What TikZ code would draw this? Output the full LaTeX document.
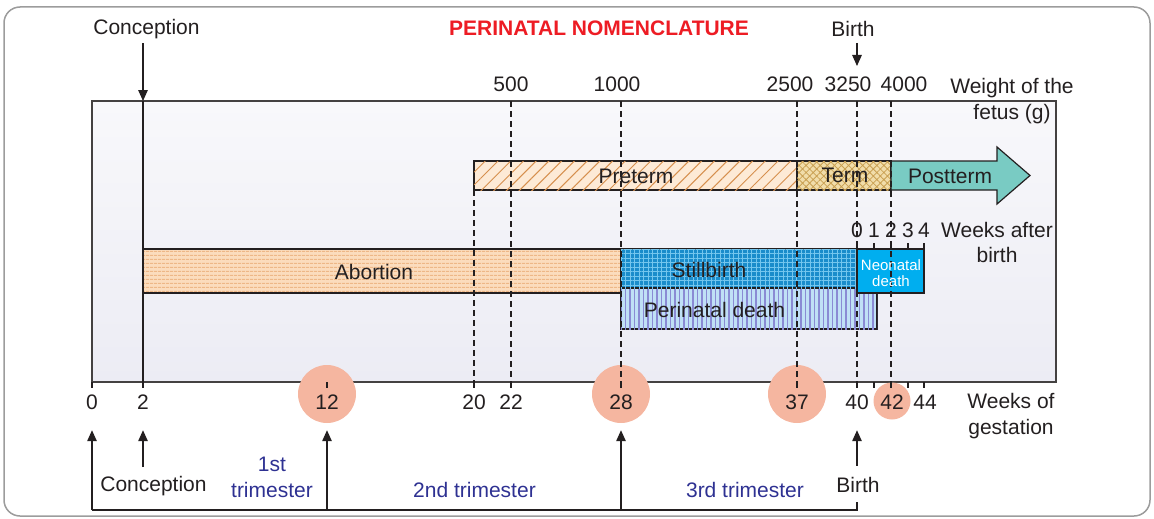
\documentclass[tikz,border=0pt]{standalone}
\usepackage{fontspec}
\setmainfont{Liberation Sans}
\usetikzlibrary{arrows.meta,patterns.meta}

\definecolor{ink}{HTML}{231F20}
\definecolor{titlered}{HTML}{ED1C24}
\definecolor{trimblue}{HTML}{2E3192}
\definecolor{frame}{HTML}{9C9C9C}
\definecolor{boxtop}{HTML}{F8F8FB}
\definecolor{boxbot}{HTML}{ECECF4}
\definecolor{peach}{HTML}{FDEAD6}
\definecolor{peachline}{HTML}{D68F4E}
\definecolor{abortfill}{HTML}{FBDCBD}
\definecolor{abortline}{HTML}{EDB787}
\definecolor{termfill}{HTML}{F1DDAA}
\definecolor{termline}{HTML}{C9A052}
\definecolor{postfill}{HTML}{79CBC3}
\definecolor{stillfill}{HTML}{1A8CCB}
\definecolor{stillline}{HTML}{74C6EE}
\definecolor{neofill}{HTML}{00AEEF}
\definecolor{perifill}{HTML}{C0E0F6}
\definecolor{periline}{HTML}{8A8AD4}
\definecolor{salmon}{HTML}{F5B6A0}

\begin{document}
\begin{tikzpicture}[
  x=1pt, y=-1pt,
  every node/.style={font=\fontsize{21}{25.5}\selectfont, text=ink, inner sep=0pt, align=center},
  bar/.style={draw=ink, line width=1.2pt},
  guide/.style={draw=ink, line width=1.2pt, dash pattern=on 6pt off 4pt},
  arrow/.style={draw=ink, line width=1.3pt, -{Triangle[length=11pt, width=9.5pt]}},
  tick/.style={draw=ink, line width=1.2pt},
  wk/.style={circle, fill=salmon, minimum size=58pt},
  trim/.style={text=trimblue},
  small/.style={font=\fontsize{15}{16.5}\selectfont, text=white}
]
\useasboundingbox (0,0) rectangle (1154,519);
\draw[frame, line width=1.5pt, rounded corners=16pt] (4,7) rectangle (1150,516);

% chart area
\draw[draw=ink!85, line width=1.3pt, top color=boxtop, bottom color=boxbot] (92,101) rectangle (1056,382);

% bars
\draw[bar, fill=peach, postaction={pattern={Lines[angle=45, distance=9pt, line width=1pt]}, pattern color=peachline}] (474,161) rectangle (797,190);
\draw[bar, fill=termfill, postaction={pattern={Hatch[angle=45, distance=5pt, line width=0.8pt]}, pattern color=termline}] (797,161) rectangle (891,190);
\draw[bar, fill=postfill] (891,161) -- (997,161) -- (997,147) -- (1030,175.5) -- (997,204) -- (997,190) -- (891,190) -- cycle;
\draw[bar, fill=abortfill, postaction={pattern={Lines[angle=0, distance=4pt, line width=1.2pt]}, pattern color=abortline}] (143,249) rectangle (621,293);
\draw[bar, fill=perifill, postaction={pattern={Lines[angle=90, distance=4.5pt, line width=1.3pt]}, pattern color=periline}] (621,288) rectangle (877,329);
\draw[bar, fill=stillfill, postaction={pattern={Hatch[angle=0, distance=4.5pt, line width=0.7pt]}, pattern color=stillline}] (621,249) rectangle (857,288);
\draw[bar, fill=neofill] (857,249) rectangle (924,293);

% week circles
\node[wk] (c12) at (327,394) {};
\node[wk] (c28) at (621,394) {};
\node[wk] (c37) at (797,394) {};
\node[wk, minimum size=37pt] (c42) at (892,401) {};

% guides and ticks
\draw[guide] (474,190) -- (474,382);
\foreach \x in {511,621,797,857,891}
  \draw[guide] (\x,101) -- (\x,382);
\draw[ink, line width=1.3pt] (143,101) -- (143,382);
\foreach \x in {92,143,327,474,511,621,797,857,874,891,908,924}
  \draw[tick] (\x,382) -- (\x,388);
\foreach \x in {857,874,891,908,924}
  \draw[tick] (\x,249) -- (\x,243);

% top texts
\node[font=\fontsize{21}{25.5}\selectfont\bfseries, text=titlered] (title) at (599,28.5) {PERINATAL NOMENCLATURE};
\node (concT) at (146.5,29.5) {Conception};
\node (birthT) at (853,29) {Birth};
\node (kg500) at (511,84) {500};
\node (kg1000) at (617,84) {1000};
\node (kg2500) at (790,84) {2500};
\node (kg3250) at (848,84) {3250};
\node (kg4000) at (904,84) {4000};
\node (weight) at (1012,101) {Weight of the\\fetus (g)};

% bar labels
\node (preterm) at (636,176.5) {Preterm};
\node (term) at (845,175.5) {Term};
\node (postterm) at (950,176) {Postterm};
\node (abortion) at (374,271.5) {Abortion};
\node (still) at (709,270) {Stillbirth};
\node (peri) at (714.5,310) {Perinatal death};
\node[small] (neo) at (891,273) {Neonatal\\death};

% weeks after birth
\node (a0) at (857,230) {0};
\node (a1) at (874,230) {1};
\node (a2) at (891,230) {2};
\node (a3) at (908,230) {3};
\node (a4) at (924,230) {4};
\node (after) at (997,242.5) {Weeks after\\birth};

% weeks of gestation
\node (g0) at (92,402.5) {0};
\node (g2) at (143,402.5) {2};
\node (g12) at (327,402.5) {12};
\node (g20) at (474,402.5) {20};
\node (g22) at (511,402.5) {22};
\node (g28) at (621,402.5) {28};
\node (g37) at (797,402.5) {37};
\node (g40) at (857,402.5) {40};
\node (g42) at (892,402.5) {42};
\node (g44) at (925,402.5) {44};
\node (gest) at (1011,416) {Weeks of\\gestation};

% bottom texts
\node (concB) at (153.5,486) {Conception};
\node[trim] (first) at (272,477.5) {1st\\trimester};
\node[trim] (second) at (474.5,490) {2nd trimester};
\node[trim] (third) at (745,490) {3rd trimester};
\node (birthB) at (858,484.5) {Birth};

% arrows
\coordinate (concBox) at (143,101);
\coordinate (birthW) at (857,66);
\coordinate (brL) at (92,510);
\coordinate (brR) at (857,510);
\draw[arrow, shorten <=4pt] (concT.south -| concBox) -- (concBox);
\draw[arrow, shorten <=6pt] (birthT.south -| birthW) -- (birthW);
\draw[tick] (brL) -- (brR) -- ([yshift=8pt]brR);
\draw[arrow, shorten >=7pt] (brL) -- (brL |- c12.south);
\draw[arrow, shorten >=7pt] (brL -| c12) -- (c12.south);
\draw[arrow, shorten >=7pt] (brL -| c28) -- (c28.south);
\draw[arrow, shorten <=9pt, shorten >=7pt] (g2 |- concB.north) -- (g2 |- c12.south);
\draw[arrow, shorten <=11pt, shorten >=7pt] (brR |- birthB.north) -- (brR |- c12.south);
\end{tikzpicture}
\end{document}
